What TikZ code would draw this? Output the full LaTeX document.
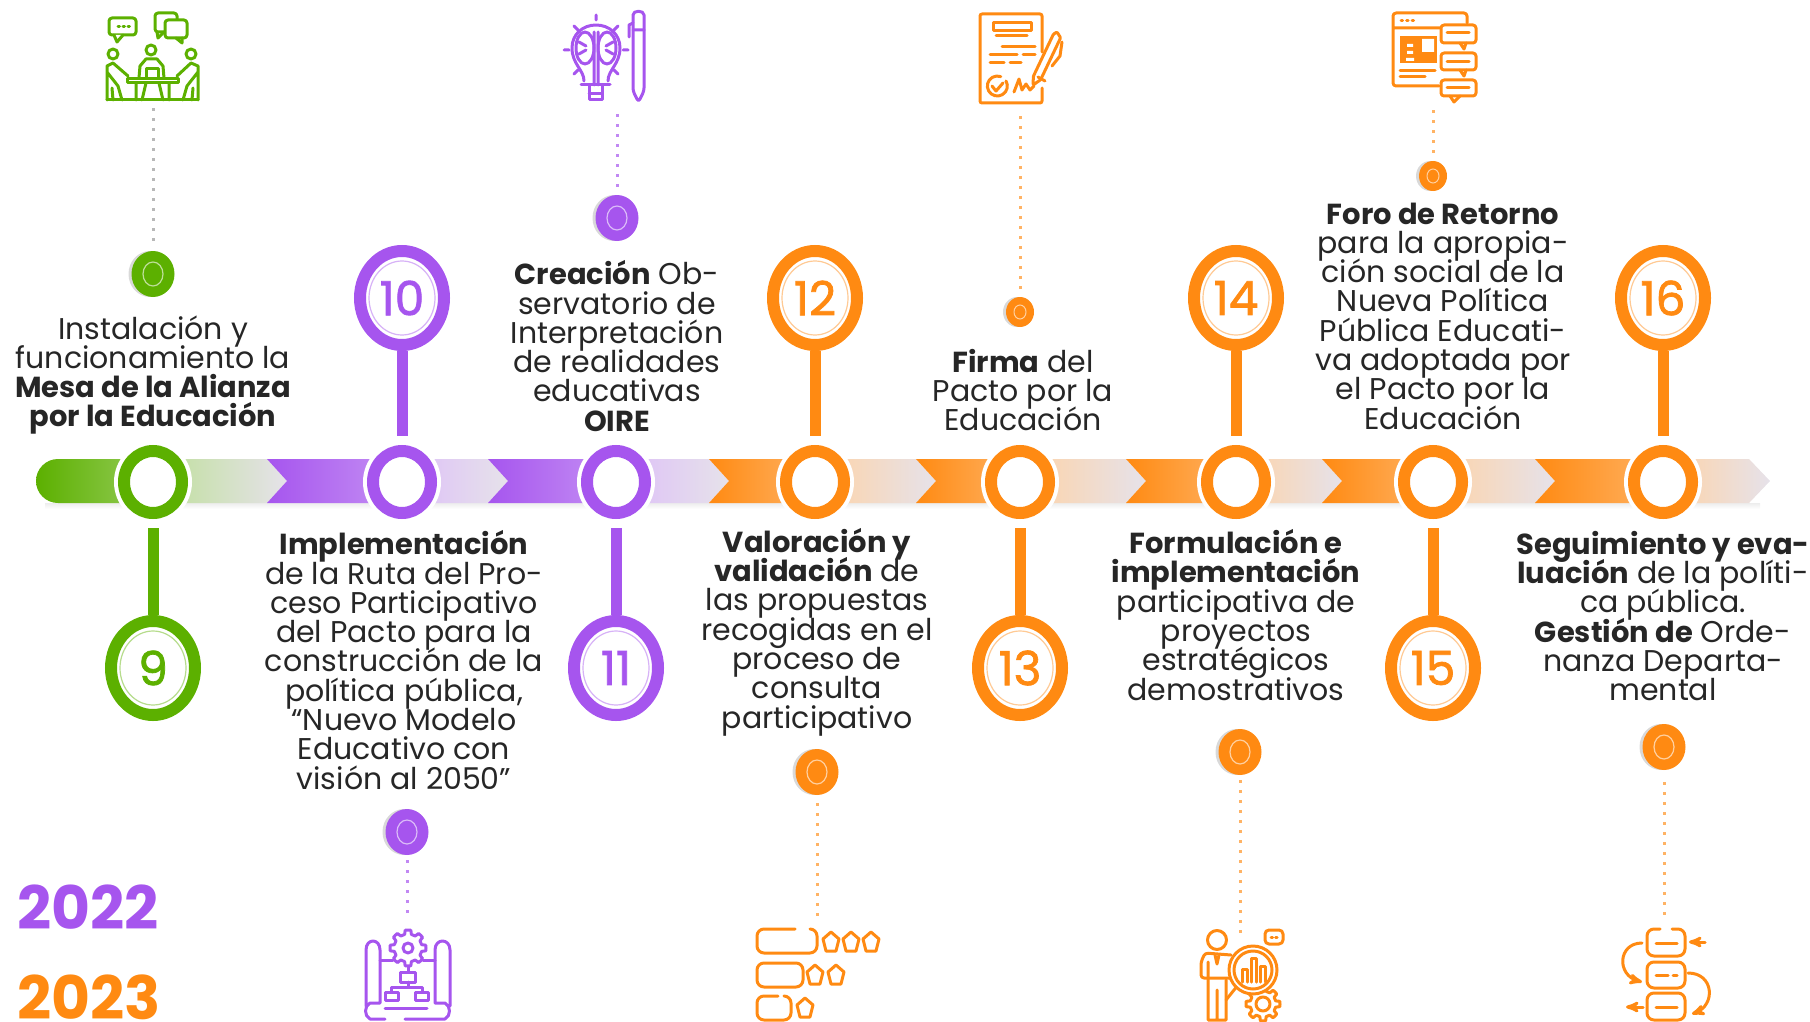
\documentclass[tikz,border=0pt]{standalone}
\usepackage{fontspec}
\setmainfont{Poppins}[BoldFeatures={Scale=0.965}]
\newfontfamily\medio[FakeBold=1.6]{Poppins}
\usetikzlibrary{arrows,shapes.geometric,shadows}
\definecolor{verde}{HTML}{5CB000}
\definecolor{morado}{HTML}{A655EE}
\definecolor{naranja}{HTML}{FF8A12}
\definecolor{palido}{HTML}{E6E2EA}
\normallineskiplimit=-20pt
\newcommand{\fuentetexto}{\fontsize{30}{29.3}\selectfont\lineskiplimit=-20pt\relax}
\tikzset{
  ring/.style={ellipse,draw=#1,fill=white,line width=12pt,inner sep=0pt,
    minimum width=58pt,minimum height=62pt,preaction={draw=white,line width=20pt}},
  numpin/.style={ellipse,draw=#1,fill=white,line width=12pt,inner sep=0pt,
    minimum width=84pt,minimum height=94pt,text=#1,font=\fontsize{47}{47}\medio,
    path picture={\draw[#1!45,line width=1.2pt] (path picture bounding box.center) ellipse (33 and 37);}},
  hito/.style={ellipse,fill=#1,inner sep=0pt,minimum width=43pt,minimum height=46pt,
    drop shadow={shadow xshift=-3pt,shadow yshift=0pt,fill=black!15,opacity=1},
    path picture={\draw[white!60!#1,line width=1.2pt] (path picture bounding box.center) ellipse (10 and 12);}},
  hitomini/.style={hito=#1,minimum width=28pt,minimum height=30pt,
    path picture={\draw[white!60!#1,line width=1pt] (path picture bounding box.center) ellipse (6 and 7);}},
  stem/.style={draw=#1,line width=11pt,shorten >=9pt},
  puntos/.style={draw=#1,line width=3pt,dash pattern=on 3pt off 7pt},
  texto/.style={align=center,inner sep=0pt,text=black!85,font=\fuentetexto},
  anio/.style={inner sep=0pt,text=#1,font=\fontsize{62}{62}\bfseries\selectfont},
  linea/.style={draw=#1,line width=3pt,line cap=round,line join=round}
}
\newcommand{\tramo}[4]{%
  \shade[left color=#4!38!white,right color=palido] (#2,459) -- (#3,459) -- (#3+20,481) -- (#3,503) -- (#2,503) -- cycle;
  \shade[left color=#4,right color=#4!65!white] (#1,459) -- (#2,459) -- (#2,503) -- (#1,503) -- (#1+20,481) -- cycle;}
\newcommand{\engrane}[4]{%
  \draw[linea=#4,fill=white,shift={(#1,#2)}] (0:#3) \foreach \a in {0,45,...,315} { -- (\a+9:#3) -- (\a+14:#3-4) -- (\a+31:#3-4) -- (\a+36:#3) -- (\a+45:#3)} -- cycle;}

\begin{document}
\begin{tikzpicture}[x=1pt,y=-1pt,node distance=184pt]
  \useasboundingbox (0,0) rectangle (1810,1022);

  \shade[top color=black!7,bottom color=white] (45,503) rectangle (1760,509);
  \shade[left color=verde!40!white,right color=palido] (153,459) -- (267,459) -- (287,481) -- (267,503) -- (153,503) -- cycle;
  \shade[rounded corners=22pt,left color=verde,right color=verde!65!white] (36,459) rectangle (153,503);
  \tramo{267}{402}{488}{morado}
  \tramo{488}{616}{709}{morado}
  \tramo{709}{815}{916}{naranja}
  \tramo{916}{1020}{1126}{naranja}
  \tramo{1126}{1236}{1322}{naranja}
  \tramo{1322}{1433}{1535}{naranja}
  \shade[left color=naranja!38!white,right color=palido] (1663,459) -- (1749,459) -- (1770,481) -- (1749,503) -- (1663,503) -- cycle;
  \shade[left color=naranja,right color=naranja!65!white] (1535,459) -- (1663,459) -- (1663,503) -- (1535,503) -- (1555,481) -- cycle;

  \node[ring=verde]   (r9)  at (153,482)                   {};
  \node[ring=morado]  (r10) [right of=r9,node distance=249pt]  {};
  \node[ring=morado]  (r11) [right of=r10,node distance=214pt] {};
  \node[ring=naranja] (r12) [right of=r11,node distance=199pt] {};
  \node[ring=naranja] (r13) [right of=r12,node distance=205pt] {};
  \node[ring=naranja] (r14) [right of=r13,node distance=216pt] {};
  \node[ring=naranja] (r15) [right of=r14,node distance=197pt] {};
  \node[ring=naranja] (r16) [right of=r15,node distance=230pt] {};

  \node[numpin=verde]   (n9)  [below of=r9,node distance=186pt]  {9};
  \node[numpin=morado]  (n10) [above of=r10]                     {10};
  \node[numpin=morado]  (n11) [below of=r11,node distance=186pt] {11};
  \node[numpin=naranja] (n12) [above of=r12]                     {12};
  \node[numpin=naranja] (n13) [below of=r13,node distance=186pt] {13};
  \node[numpin=naranja] (n14) [above of=r14]                     {14};
  \node[numpin=naranja] (n15) [below of=r15,node distance=186pt] {15};
  \node[numpin=naranja] (n16) [above of=r16]                     {16};

  \path (n9)  edge [stem=verde]   (r9)
        (n10) edge [stem=morado]  (r10)
        (n11) edge [stem=morado]  (r11)
        (n12) edge [stem=naranja] (r12)
        (n13) edge [stem=naranja] (r13)
        (n14) edge [stem=naranja] (r14)
        (n15) edge [stem=naranja] (r15)
        (n16) edge [stem=naranja] (r16);

  \node[hito=verde]       (d9)  at (153,274)  {};
  \node[hito=morado]      (d10) at (407,832)  {};
  \node[hito=morado]      (d11) at (617,218)  {};
  \node[hito=naranja]     (d12) at (817,772)  {};
  \node[hitomini=naranja] (d13) at (1020,312) {};
  \node[hito=naranja]     (d14) at (1240,752) {};
  \node[hitomini=naranja] (d15) at (1433,176) {};
  \node[hito=naranja]     (d16) at (1664,747) {};

  \coordinate (i9)  at (153,108);
  \coordinate (i10) at (407,920);
  \coordinate (i11) at (617,107);
  \coordinate (i12) at (817,923);
  \coordinate (i13) at (1020,110);
  \coordinate (i14) at (1240,933);
  \coordinate (i15) at (1433,103);
  \coordinate (i16) at (1664,918);

  \path (d9)  edge [puntos=black!28,shorten <=10pt]   (i9)
        (d10) edge [puntos=morado!70,shorten <=5pt]   (i10)
        (d11) edge [puntos=morado!70,shorten <=8pt]   (i11)
        (d12) edge [puntos=naranja!65,shorten <=8pt]  (i12)
        (d13) edge [puntos=naranja!65,shorten <=8pt]  (i13)
        (d14) edge [puntos=naranja!65,shorten <=5pt]  (i14)
        (d15) edge [puntos=naranja!65,shorten <=8pt]  (i15)
        (d16) edge [puntos=naranja!65,shorten <=12pt] (i16);

  \node[texto] (t9)  at (153,375)  {Instalación y\\funcionamiento la\\\textbf{Mesa de la Alianza}\\\textbf{por la Educación}};
  \node[texto] (t10) at (404,660)  {\textbf{Implementación}\\de la Ruta del Pro-\\ceso Participativo\\del Pacto para la\\construcción de la\\política pública,\\“Nuevo Modelo\\Educativo con\\visión al 2050”};
  \node[texto] (t11) at (617,346)  {\textbf{Creación} Ob-\\servatorio de\\Interpretación\\de realidades\\educativas\\\textbf{OIRE}};
  \node[texto] (t12) at (817,632)  {\textbf{Valoración y}\\\textbf{validación} de\\las propuestas\\recogidas en el\\proceso de\\consulta\\participativo};
  \node[texto] (t13) at (1023,390) {\textbf{Firma} del\\Pacto por la\\Educación};
  \node[texto] (t14) at (1236,615) {\textbf{Formulación e}\\\textbf{implementación}\\participativa de\\proyectos\\estratégicos\\demostrativos};
  \node[texto] (t15) at (1443,316) {\textbf{Foro de Retorno}\\para la apropia-\\ción social de la\\Nueva Política\\Pública Educati-\\va adoptada por\\el Pacto por la\\Educación};
  \node[texto] (t16) at (1663,616) {\textbf{Seguimiento y eva-}\\\textbf{luación} de la políti-\\ca pública.\\\textbf{Gestión de} Orde-\\nanza Departa-\\mental};

  \node[anio=morado,anchor=west]  (a22) at (17,907) {2022};
  \node[anio=naranja,anchor=west] (a23) at (17,997) {2023};

  \draw[linea=verde,rounded corners=3pt] (109,18) rectangle (136,35);
  \draw[linea=verde,fill=white] (114,35) -- (117,42) -- (123,35);
  \draw[linea=verde,dash pattern=on 1.5pt off 3.5pt] (118,27) -- (131,27);
  \draw[linea=verde,rounded corners=3pt] (155,13) rectangle (177,32);
  \draw[linea=verde] (157,32) -- (158,38) -- (164,32);
  \draw[linea=verde,rounded corners=3pt,fill=white] (165,20) rectangle (187,38);
  \draw[linea=verde] (176,38) -- (182,43) -- (182,38);
  \draw[linea=verde] (113,54) circle (5) (151,50) circle (5) (191,54) circle (5);
  \draw[linea=verde] (107,100) -- (198,100);
  \draw[linea=verde] (127,79) rectangle (178,83);
  \draw[linea=verde] (107,100) -- (107,66) -- (113,63) -- (128,76) (107,72) -- (118,86) -- (122,100) (113,100) -- (112,88);
  \draw[linea=verde] (198,100) -- (198,66) -- (191,63) -- (177,76) (198,72) -- (187,86) -- (183,100) (192,100) -- (193,88);
  \draw[linea=verde] (139,78) -- (140,66) -- (146,59) -- (157,59) -- (163,66) -- (164,78);
  \draw[linea=verde] (146,78) -- (146,69) -- (158,69) -- (158,78);
  \draw[linea=verde] (136,83) -- (136,100) (169,83) -- (169,100) (146,83) -- (142,100) (159,83) -- (163,100);

  \draw[linea=morado] (584,81) .. controls (584,70) and (572,64) .. (572,48) .. controls (572,34) and (583,25) .. (596,25) .. controls (609,25) and (620,34) .. (620,48) .. controls (620,64) and (608,70) .. (608,81);
  \draw[linea=morado] (581,85) -- (610,85) (589,85) -- (589,100) -- (602,100) -- (602,85) (589,94) -- (602,94);
  \draw[linea=morado] (585,48) ellipse (9 and 16) (607,48) ellipse (9 and 16);
  \draw[linea=morado] (594,32) -- (594,85) (598,32) -- (598,85) (579,42) -- (586,46) (613,42) -- (606,46) (579,54) -- (586,50) (613,54) -- (606,50);
  \draw[linea=morado] (596,15) -- (596,20) (564,50) -- (569,50) (623,50) -- (628,50) (574,26) -- (578,30) (618,26) -- (614,30) (574,74) -- (578,70) (618,74) -- (614,70);
  \draw[linea=morado,rounded corners=3pt] (633,18) .. controls (633,10) and (644,10) .. (644,18) -- (644,91) -- (638.5,102) -- (633,91) -- cycle;
  \draw[linea=morado] (633,23) -- (629,25) -- (629,37) (633,30) -- (644,30);

  \draw[linea=naranja,rounded corners=2pt] (1042,52) -- (1042,14) -- (980,14) -- (980,103) -- (1042,103) -- (1042,88);
  \draw[linea=naranja] (993,23) rectangle (1031,31) (996,36) -- (1027,36) (1002,47) -- (1035,47);
  \draw[linea=naranja] (990,55) -- (1017,55) (1023,55) -- (1035,55) (990,63) -- (1004,63) (1010,63) -- (1021,63);
  \draw[linea=naranja] (1006,81) arc (-30:290:10) (992,86) -- (996,91) -- (1003,83);
  \draw[linea=naranja] (1014,92) -- (1019,79) -- (1022,90) -- (1026,84) -- (1030,90) -- (1034,86);
  \draw[linea=naranja,fill=white,rounded corners=1pt] (1033,85) -- (1040.6,79.8) -- (1060.6,37.8) -- (1057,32) -- (1053.4,34.2) -- (1033.4,76.2) -- cycle;
  \draw[linea=naranja] (1062,42) -- (1060,56) -- (1052,66) (1038,77) -- (1045,81);

  \draw[linea=naranja,rounded corners=3pt] (1439,86) -- (1393,86) -- (1393,13) -- (1467,13) -- (1467,23) (1393,28) -- (1441,28) (1393,40) -- (1393,44);
  \draw[linea=naranja,dash pattern=on 1.5pt off 4pt] (1401,21) -- (1415,21);
  \fill[naranja] (1400,36) rectangle (1437,63);
  \fill[white] (1422,39) rectangle (1434,52) (1407,44) rectangle (1413,47) (1407,51) rectangle (1413,54) (1406,58) rectangle (1414,61);
  \draw[linea=naranja] (1400,71) -- (1435,71) (1400,77) -- (1425,77);
  \draw[linea=naranja,fill=white,rounded corners=3pt] (1441,25) rectangle (1476,43);
  \draw[linea=naranja,fill=white,rounded corners=3pt] (1441,53) rectangle (1476,70);
  \draw[linea=naranja,fill=white,rounded corners=3pt] (1441,80) rectangle (1476,96);
  \draw[linea=naranja] (1447,33) -- (1469,33) (1447,62) -- (1469,62) (1447,88) -- (1469,88);
  \draw[linea=naranja] (1460,43) -- (1464,49) -- (1466,43) (1460,70) -- (1464,76) -- (1466,70) (1450,96) -- (1454,102) -- (1460,96);

  \draw[linea=morado] (385,1019) -- (370,1019) .. controls (364,1016) and (364,1006) .. (370,1003) -- (380,1003) -- (380,950) .. controls (380,938) and (366,938) .. (366,950) -- (366,1006);
  \draw[linea=morado] (405,1019) -- (445,1019) .. controls (451,1016) and (451,1006) .. (445,1003) -- (435,1003) -- (435,950) .. controls (435,938) and (450,938) .. (450,950) -- (450,1006);
  \draw[linea=morado] (385,1008) -- (427,1008) (380,960) -- (393,960) (423,960) -- (435,960) (408,966) -- (408,972);
  \engrane{408}{948}{18}{morado}
  \draw[linea=morado] (408,948) circle (5);
  \draw[linea=morado] (400,972) rectangle (415,982) (385,992) rectangle (398,1000) (415,992) rectangle (428,1000);
  \draw[linea=morado] (408,982) -- (408,987) (391,992) -- (391,987) -- (422,987) -- (422,992);

  \draw[linea=naranja,rounded corners=7pt] (795,929) -- (757,929) -- (757,953) -- (817,953) -- (817,929) -- (810,929);
  \draw[linea=naranja,rounded corners=7pt] (757,963) rectangle (803,987);
  \draw[linea=naranja,rounded corners=7pt] (778,996) -- (757,996) -- (757,1020) -- (791,1020) -- (791,996) -- (785,996);
  \foreach \sx/\sy in {831/942,851/942,871/942,815/975,836/975,805/1008}
    \draw[linea=naranja] (\sx,\sy-10) -- (\sx+8,\sy-3) -- (\sx+5,\sy+9) -- (\sx-5,\sy+9) -- (\sx-8,\sy-3) -- cycle;

  \engrane{1263}{1004}{17}{naranja}
  \draw[linea=naranja] (1263,1004) circle (7);
  \draw[linea=naranja] (1217,940) circle (9.5);
  \draw[linea=naranja,rounded corners=3pt] (1231,955) -- (1205,953) -- (1201,962) -- (1201,978) -- (1232,978);
  \draw[linea=naranja] (1215,955) -- (1217,964) -- (1219,955) (1208,962) -- (1208,1020) -- (1217,1020) -- (1217,990) (1217,1020) -- (1226,1020) -- (1226,980);
  \draw[linea=naranja] (1238,985) -- (1226,1000);
  \draw[linea=naranja,fill=white] (1253,970) ellipse (24 and 24);
  \draw[linea=naranja] (1253,970) ellipse (19 and 19);
  \draw[linea=naranja] (1242,982) -- (1242,969) -- (1247,969) -- (1247,982) (1251,982) -- (1251,958) -- (1256,958) -- (1256,982) (1260,982) -- (1260,966) -- (1265,966) -- (1265,982);
  \draw[linea=naranja,rounded corners=4pt] (1265,930) rectangle (1283,944);
  \draw[linea=naranja,dash pattern=on 1.5pt off 3pt] (1271,937) -- (1279,937);

  \draw[linea=naranja,rounded corners=7pt] (1660,929) -- (1647,929) -- (1647,956) -- (1685,956) -- (1685,929) -- (1672,929);
  \draw[linea=naranja,rounded corners=7pt] (1647,962) rectangle (1685,988);
  \draw[linea=naranja,rounded corners=7pt] (1647,993) rectangle (1685,1020);
  \draw[linea=naranja] (1656,943) -- (1677,943) (1656,975) -- (1668,975) (1673,975) -- (1677,975) (1656,1007) -- (1677,1007);
  \draw[linea=naranja,->,>=stealth'] (1705,942) -- (1689,942);
  \draw[linea=naranja,->,>=stealth'] (1643,1007) -- (1626,1007);
  \draw[linea=naranja,->,>=stealth'] (1642,943) .. controls (1618,943) and (1616,975) .. (1642,982);
  \draw[linea=naranja,->,>=stealth'] (1688,973) .. controls (1714,973) and (1716,1005) .. (1692,1014);
\end{tikzpicture}
\end{document}
